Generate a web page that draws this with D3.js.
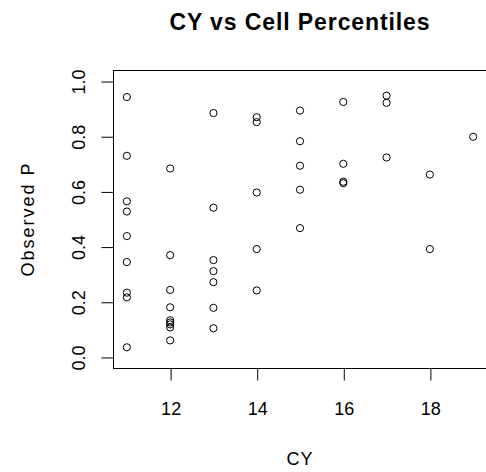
<!DOCTYPE html>
<html>
<head>
<meta charset="utf-8">
<script src="https://cdn.jsdelivr.net/npm/d3@7"></script>
<style>
  html, body { margin: 0; padding: 0; background: #fff; }
  svg { display: block; }
  text { font-family: "Liberation Sans", Arial, sans-serif; fill: #000; }
</style>
</head>
<body>
<div id="chart"></div>
<script>
// Observations: CY value and observed cell percentile
const cy = [
  11, 11, 11, 11, 11, 11, 11, 11, 11,
  12, 12, 12, 12, 12, 12, 12, 12, 12,
  13, 13, 13, 13, 13, 13, 13,
  14, 14, 14, 14, 14,
  15, 15, 15, 15, 15,
  16, 16, 16, 16,
  17, 17, 17,
  18, 18,
  19
];
const observedP = [
  0.942, 0.729, 0.564, 0.527, 0.438, 0.344, 0.233, 0.216, 0.035,
  0.683, 0.369, 0.243, 0.180, 0.133, 0.125, 0.118, 0.107, 0.060,
  0.884, 0.541, 0.351, 0.311, 0.271, 0.178, 0.104,
  0.869, 0.851, 0.596, 0.391, 0.241,
  0.893, 0.782, 0.693, 0.606, 0.467,
  0.924, 0.700, 0.635, 0.630,
  0.947, 0.921, 0.723,
  0.661, 0.391,
  0.798
];
const xTicks = [12, 14, 16, 18];
const yTicks = [0.0, 0.2, 0.4, 0.6, 0.8, 1.0];
const titleText = "CY vs Cell Percentiles";
const xLabel = "CY";
const yLabel = "Observed P";

const W = 486, H = 472;
const plot = { left: 113, top: 70, right: 487, bottom: 368 };

// Axis ranges padded 4% like base R graphics
const xMin = 11, xMax = 19, yMin = 0, yMax = 1;
const xPad = (xMax - xMin) * 0.04, yPad = (yMax - yMin) * 0.04;

const x = d3.scaleLinear().domain([xMin - xPad, xMax + xPad]).range([plot.left, plot.right]);
const y = d3.scaleLinear().domain([yMin - yPad, yMax + yPad]).range([plot.bottom, plot.top]);

const svg = d3.select("#chart").append("svg")
  .attr("width", W).attr("height", H);

// Plot frame
svg.append("rect")
  .attr("x", plot.left + 0.5).attr("y", plot.top + 0.5)
  .attr("width", plot.right - plot.left).attr("height", plot.bottom - plot.top)
  .attr("fill", "none").attr("stroke", "#000").attr("stroke-width", 1);

const tickLen = 12;

// X axis
const xAxis = svg.append("g")
  .attr("transform", `translate(0.5,${plot.bottom + 0.5})`)
  .call(d3.axisBottom(x).tickValues(xTicks).tickSizeInner(tickLen).tickSizeOuter(0).tickPadding(22)
    .tickFormat(d3.format("d")));
xAxis.select(".domain").attr("d", `M${x(xTicks[0])},0H${x(xTicks[xTicks.length - 1])}`);
xAxis.selectAll("text").attr("font-size", 18).attr("font-family", "Liberation Sans, Arial, sans-serif");

// Y axis with labels parallel to the axis
const yAxis = svg.append("g")
  .attr("transform", `translate(${plot.left + 0.5},0.5)`)
  .call(d3.axisLeft(y).tickValues(yTicks).tickSizeInner(tickLen).tickSizeOuter(0)
    .tickFormat(d3.format(".1f")));
yAxis.select(".domain").attr("d", `M0,${y(yTicks[0])}V${y(yTicks[yTicks.length - 1])}`);
yAxis.selectAll(".tick text")
  .attr("font-size", 18).attr("font-family", "Liberation Sans, Arial, sans-serif")
  .attr("x", null).attr("dy", null)
  .attr("text-anchor", "middle")
  .attr("dominant-baseline", "central")
  .attr("transform", "translate(-35,0) rotate(-90)");

// Points (open circles)
svg.append("g").selectAll("circle")
  .data(cy.map((c, i) => ({ c, p: observedP[i] })))
  .join("circle")
  .attr("cx", d => x(d.c))
  .attr("cy", d => y(d.p))
  .attr("r", 3.6)
  .attr("fill", "none")
  .attr("stroke", "#000")
  .attr("stroke-width", 1);

// Title and axis titles
const midX = (plot.left + plot.right) / 2;
const midY = (plot.top + plot.bottom) / 2;
svg.append("text")
  .attr("x", midX).attr("y", 22)
  .attr("text-anchor", "middle").attr("dominant-baseline", "central")
  .attr("font-size", 23).attr("font-weight", "bold")
  .attr("letter-spacing", 0.9)
  .text(titleText);
svg.append("text")
  .attr("x", midX).attr("y", 459)
  .attr("text-anchor", "middle").attr("dominant-baseline", "central")
  .attr("font-size", 18).attr("letter-spacing", 1)
  .text(xLabel);
svg.append("text")
  .attr("transform", `translate(28,${midY}) rotate(-90)`)
  .attr("text-anchor", "middle").attr("dominant-baseline", "central")
  .attr("font-size", 18).attr("letter-spacing", 2)
  .text(yLabel);
</script>
</body>
</html>
